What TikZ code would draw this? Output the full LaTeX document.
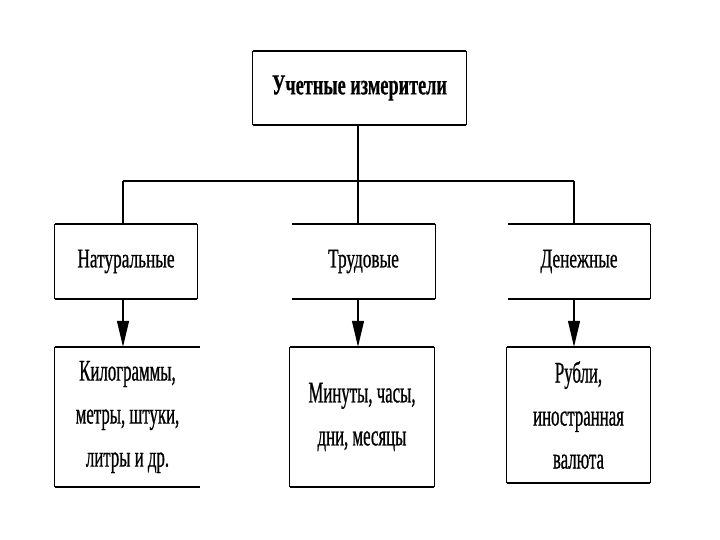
\documentclass[tikz,border=0pt]{standalone}
\usepackage{fontspec}
\usetikzlibrary{arrows.meta}
\newfontfamily\cond[FakeStretch=0.64,FakeBold=0.7]{Liberation Serif}
\newfontfamily\condb[FakeStretch=0.56,FakeBold=0.7]{Liberation Serif}
\newfontfamily\condt[FakeStretch=0.63,FakeBold=0.5]{Liberation Serif}
\tikzset{
  box/.style={draw=none, inner sep=0pt, align=center, font=\cond\fontsize{27}{42}\selectfont},
  lowbox/.style={box, font=\condb\fontsize{30}{43}\selectfont},
  hline/.style={line width=1.8pt},
  vline/.style={line width=1.1pt},
  conn/.style={line width=1.1pt},
  arr/.style={line width=1.1pt, -{Triangle[length=26pt,width=12pt]}},
}
\begin{document}
\begin{tikzpicture}[x=1pt,y=-1pt]
\useasboundingbox (0,0) rectangle (720,540);
% top
\node[box, minimum width=213pt, minimum height=74pt, font=\condt\bfseries\fontsize{29}{42}\selectfont] (top) at (359.5,88) {Учетные измерители};
% middle
\node[box, minimum width=142pt, minimum height=75pt] (nat) at (126,261.5) {Натуральные};
\node[box, minimum width=143pt, minimum height=75pt] (trud) at (363.5,261.5) {Трудовые};
\node[box, minimum width=142pt, minimum height=75pt] (den) at (579,261.5) {Денежные};
% bottom
\node[lowbox, minimum width=145pt, minimum height=140pt] (kg) at (127.5,417) {Килограммы,\\метры, штуки,\\литры и др.};
\node[lowbox, minimum width=144pt, minimum height=140pt] (min) at (362,417) {Минуты, часы,\\дни, месяцы};
\node[lowbox, minimum width=143pt, minimum height=136pt] (rub) at (578.5,415) {Рубли,\\иностранная\\валюта};
% borders
\draw[hline] (top.north west) -- (top.north east);
\draw[hline] (top.south west) -- (top.south east);
\draw[vline] (top.north west) -- (top.south west);
\draw[vline] (top.north east) -- (top.south east);
\foreach \n in {nat,trud,den}{
  \draw[hline] (\n.north west) -- (\n.north east);
  \draw[hline] (\n.south west) -- (\n.south east);
  \draw[vline] (\n.north east) -- (\n.south east);
}
\draw[vline] (nat.north west) -- (nat.south west);
\foreach \n in {kg,min,rub}{
  \draw[hline] (\n.north west) -- (\n.north east);
  \draw[hline] (\n.south west) -- (\n.south east);
  \draw[vline] (\n.north west) -- (\n.south west);
}
\draw[vline] (min.north east) -- (min.south east);
\draw[vline] (rub.north east) -- (rub.south east);
% connectors
\coordinate (busm) at (358,181);
\coordinate (busl) at (123,181);
\coordinate (busr) at (574,181);
\draw[conn] (top.south -| busm) -- (busm);
\draw[hline] (busl) -- (busr);
\draw[conn] (busl) -- (busl |- nat.north);
\draw[conn] (busm) -- (busm |- trud.north);
\draw[conn] (busr) -- (busr |- den.north);
\draw[arr] (nat.south -| busl) -- (kg.north -| busl);
\draw[arr] (trud.south -| busm) -- (min.north -| busm);
\draw[arr] (den.south -| busr) -- (rub.north -| busr);
\end{tikzpicture}
\end{document}
